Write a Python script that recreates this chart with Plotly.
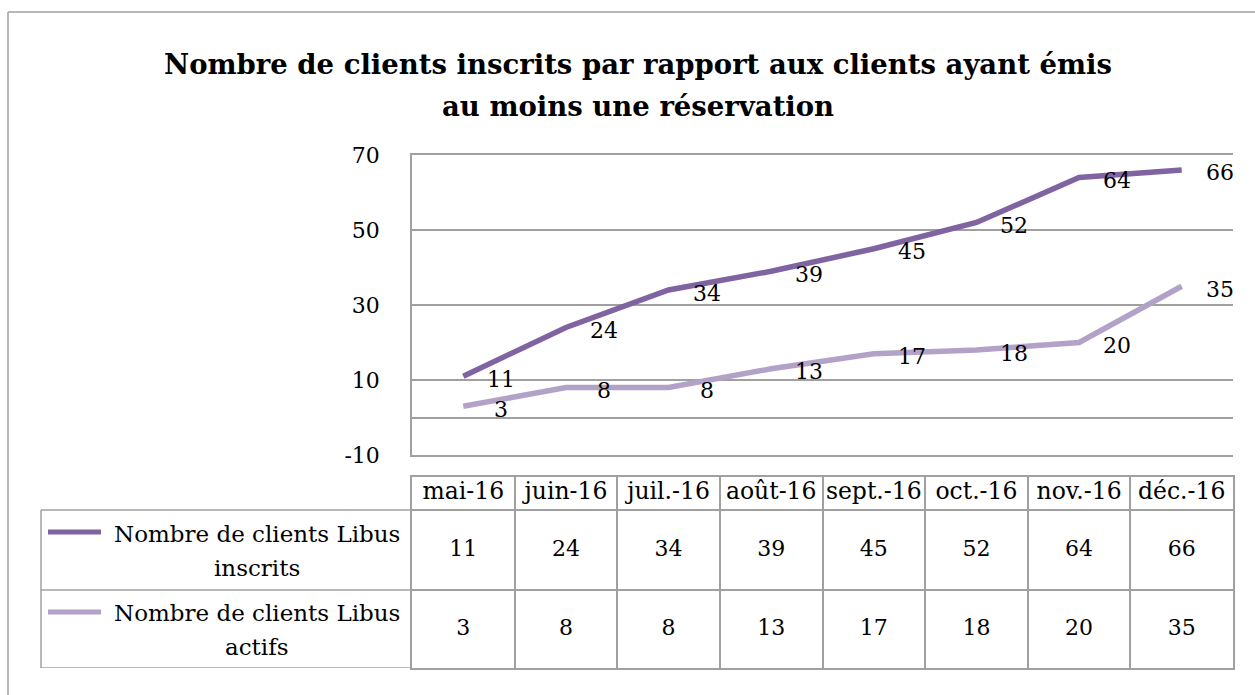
import plotly.graph_objects as go

# data
months = ["mai-16", "juin-16", "juil.-16", "août-16", "sept.-16", "oct.-16", "nov.-16", "déc.-16"]
inscrits = [11, 24, 34, 39, 45, 52, 64, 66]
actifs = [3, 8, 8, 13, 17, 18, 20, 35]
y_ticks = [-10, 10, 30, 50, 70]
series_names = ["Nombre de clients Libus<br>inscrits", "Nombre de clients Libus<br>actifs"]
title_lines = ["Nombre de clients inscrits par rapport aux clients ayant émis",
               "au moins une réservation"]

W, H = 1255, 695
FONT = "DejaVu Serif"
GRID = "#a0a0a0"
DARK = "#8064a2"
LIGHT = "#b3a2c7"


def px(x):
    return x / W


def py(y):
    return 1 - y / H


# table row heights in y2 units (pixels)
row_actifs = 78
row_inscrits = 80
row_header = 33
y_top = row_actifs + row_inscrits + row_header

fig = go.Figure()

# ---- lines ----
for vals, color in [(inscrits, DARK), (actifs, LIGHT)]:
    fig.add_trace(go.Scatter(
        x=months, y=vals, mode="lines",
        line=dict(color=color, width=5.5),
        xaxis="x", yaxis="y", hoverinfo="skip", showlegend=False,
    ))
    for m, v in zip(months, vals):
        fig.add_annotation(
            x=m, y=v, xref="x", yref="y", text=str(v), showarrow=False,
            xanchor="center", yanchor="middle",
            xshift=38, yshift=-3, font=dict(family=FONT, size=22, color="black"),
        )

# ---- data table ----
fig.add_trace(go.Scatter(
    x=months, y=[row_actifs + row_inscrits + row_header / 2] * len(months),
    text=months, mode="text", textfont=dict(family=FONT, size=23.5, color="black"),
    xaxis="x2", yaxis="y2", hoverinfo="skip", showlegend=False,
))
for vals, yc in [(inscrits, row_actifs + row_inscrits / 2), (actifs, row_actifs / 2)]:
    fig.add_trace(go.Scatter(
        x=months, y=[yc] * len(months), text=[str(v) for v in vals],
        mode="text", textfont=dict(family=FONT, size=22, color="black"),
        xaxis="x2", yaxis="y2", hoverinfo="skip", showlegend=False,
    ))

# legend column of the table
left = px(41)
right = px(412)
for yb in [0, row_actifs, row_actifs + row_inscrits]:
    fig.add_shape(type="line", xref="paper", yref="y2", x0=left, x1=right, y0=yb, y1=yb,
                  line=dict(color=GRID, width=1.5))
fig.add_shape(type="line", xref="paper", yref="y2", x0=left, x1=left, y0=0,
              y1=row_actifs + row_inscrits, line=dict(color=GRID, width=1.5))

for name, color, ybase, h in [(series_names[0], DARK, row_actifs, row_inscrits),
                              (series_names[1], LIGHT, 0, row_actifs)]:
    fig.add_shape(type="line", xref="paper", yref="y2", x0=px(48), x1=px(101),
                  y0=ybase + h - 22, y1=ybase + h - 22, line=dict(color=color, width=5))
    for part, dy in zip(name.split("<br>"), [16, -18]):
        fig.add_annotation(x=px(257), y=ybase + h / 2 + dy, xref="paper", yref="y2",
                           text=part, showarrow=False,
                           xanchor="center", yanchor="middle",
                           font=dict(family=FONT, size=23, color="black"))

# chart border (top and left visible)
fig.add_shape(type="line", xref="paper", yref="paper", x0=px(8), x1=1, y0=py(12), y1=py(12),
              line=dict(color=GRID, width=1.5))
fig.add_shape(type="line", xref="paper", yref="paper", x0=px(8), x1=px(8), y0=0, y1=py(12),
              line=dict(color=GRID, width=1.5))

# title, two lines
for line, yc in zip(title_lines, [64, 106]):
    fig.add_annotation(x=px(638), y=py(yc), xref="paper", yref="paper",
                       text="<b>" + line + "</b>", showarrow=False,
                       xanchor="center", yanchor="middle",
                       font=dict(family=FONT, size=27.5, color="black"))

fig.update_layout(
    width=W, height=H,
    margin=dict(l=0, r=0, t=0, b=0, autoexpand=False),
    paper_bgcolor="white", plot_bgcolor="white",
    xaxis=dict(domain=[px(412), px(1233)], type="category", categoryarray=months,
               range=[-0.5, 7.5], showgrid=False, showticklabels=False, ticks="",
               showline=True, mirror=True, linecolor=GRID, linewidth=1.5, anchor="y",
               automargin=False),
    yaxis=dict(domain=[py(455), py(155)], range=[-10, 70],
               tickmode="array", tickvals=y_ticks, ticktext=[str(t) for t in y_ticks],
               showgrid=True, gridcolor=GRID, gridwidth=1.5,
               zeroline=True, zerolinecolor=GRID, zerolinewidth=1.5,
               showline=True, linecolor=GRID, linewidth=1.5, ticks="",
               ticklabelstandoff=26, tickfont=dict(family=FONT, size=22, color="black"),
               anchor="x", automargin=False),
    xaxis2=dict(domain=[px(412), px(1233)], type="category", categoryarray=months,
                range=[-0.5, 7.5], tickson="boundaries", showgrid=True, gridcolor=GRID,
                gridwidth=1.5, showticklabels=False, ticks="", showline=True, mirror=True,
                linecolor=GRID, linewidth=1.5, anchor="y2", automargin=False),
    yaxis2=dict(domain=[py(668), py(477)], range=[0, y_top],
                tickvals=[row_actifs, row_actifs + row_inscrits], showgrid=True,
                gridcolor=GRID, gridwidth=1.5, zeroline=False, showticklabels=False,
                ticks="", showline=True, mirror=True, linecolor=GRID, linewidth=1.5,
                anchor="x2", automargin=False),
)

fig.write_html("out.html", config={"displayModeBar": False},
               post_script="document.body.style.margin='0';")
